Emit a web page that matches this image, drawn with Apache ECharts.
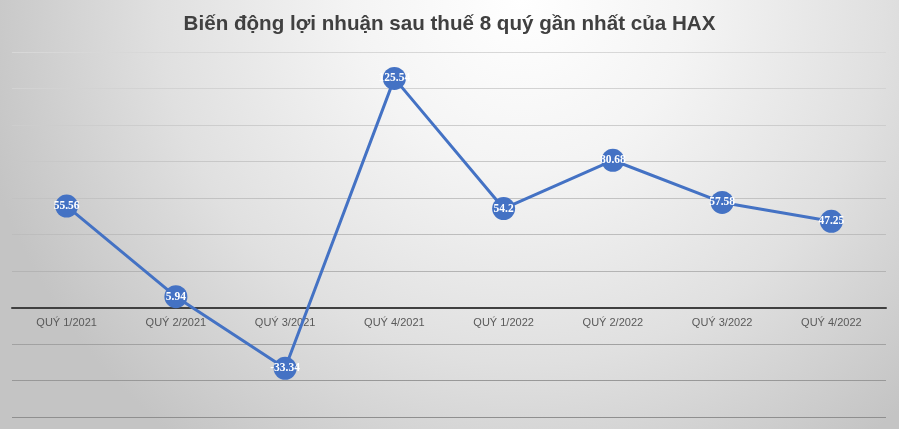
<!DOCTYPE html>
<html>
<head>
<meta charset="utf-8">
<script src="https://cdn.jsdelivr.net/npm/echarts@6/dist/echarts.min.js"></script>
<style>
html,body{margin:0;padding:0;}
body{width:899px;height:429px;overflow:hidden;
background:radial-gradient(ellipse 62% 130% at 58% 0%, #ffffff 0%, #f4f4f4 30%, #e0e0e0 65%, #c4c4c4 100%);}
#c{width:899px;height:429px;}
</style>
</head>
<body>
<div id="c"></div>
<script>
const title = 'Biến động lợi nhuận sau thuế 8 quý gần nhất của HAX';
const categories = ['QUÝ 1/2021','QUÝ 2/2021','QUÝ 3/2021','QUÝ 4/2021','QUÝ 1/2022','QUÝ 2/2022','QUÝ 3/2022','QUÝ 4/2022'];
const profit = [55.56, 5.94, -33.34, 125.54, 54.2, 80.68, 57.58, 47.25];

const yMin = -60, yMax = 140;
const gridTop = 52, gridBottom = 12, H = 429;
const plotH = H - gridTop - gridBottom;
const zeroOffset = plotH * (0 - yMin) / (yMax - yMin);

const chart = echarts.init(document.getElementById('c'), null, {renderer:'canvas'});
chart.setOption({
  backgroundColor: 'transparent',
  animation: false,
  title: {
    text: title, left: 'center', top: 9,
    textStyle: {fontFamily: 'Liberation Sans', fontWeight: 'bold', fontSize: 20.6, color: '#404040'}
  },
  grid: {left: 12, right: 13, top: gridTop, bottom: gridBottom, containLabel: false, outerBoundsMode: 'none'},
  xAxis: {
    type: 'category', data: categories, boundaryGap: true,
    position: 'bottom', offset: -zeroOffset,
    axisLine: {onZero: false, lineStyle: {color: '#404040', width: 2}},
    axisTick: {show: false},
    axisLabel: {color: '#595959', fontFamily: 'Liberation Sans', fontSize: 11, margin: 10}
  },
  yAxis: {
    type: 'value', min: yMin, max: yMax, interval: 20,
    axisLabel: {show: false}, axisLine: {show: false}, axisTick: {show: false},
    splitLine: {lineStyle: {width: 1, color: {type: 'linear', x: 0, y: 52, x2: 0, y2: 418, global: true,
      colorStops: [{offset: 0, color: '#d8d8d8'}, {offset: 0.5, color: '#bdbdbd'}, {offset: 1, color: '#8f8f8f'}]}}}
  },
  series: [{
    type: 'line', data: profit,
    symbol: 'circle', symbolSize: 23,
    lineStyle: {color: '#4472C4', width: 3},
    itemStyle: {color: '#4472C4'},
    label: {show: true, position: 'inside', color: '#ffffff', fontFamily: 'Liberation Serif', fontWeight: 'bold', fontSize: 11.5}
  }]
});
</script>
</body>
</html>
